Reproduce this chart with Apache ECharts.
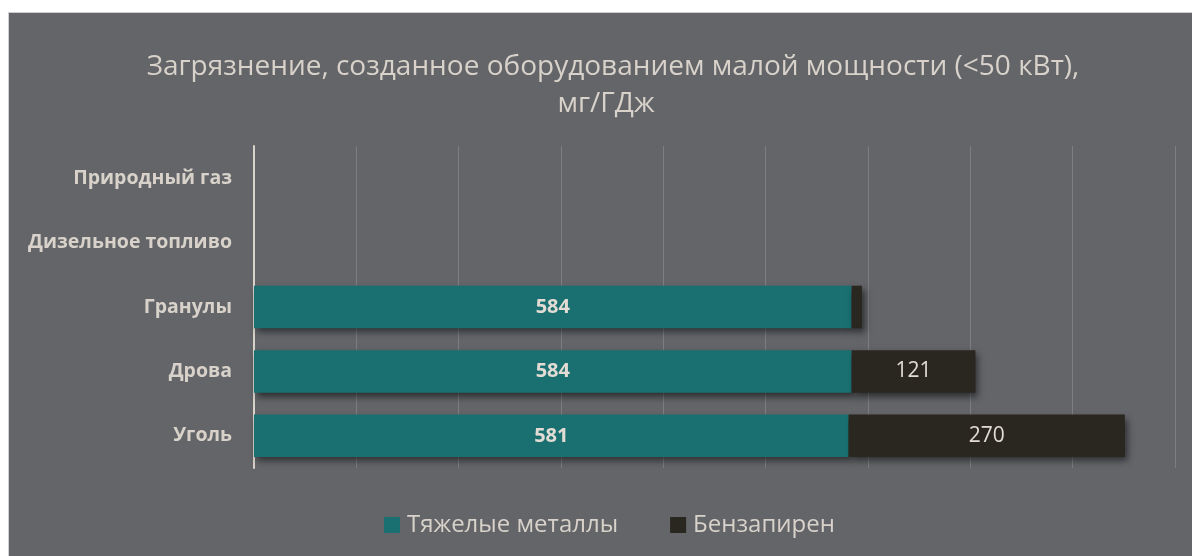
<!DOCTYPE html>
<html>
<head>
<meta charset="utf-8">
<script src="https://cdn.jsdelivr.net/npm/echarts@6/dist/echarts.min.js"></script>
<style>
html, body { margin: 0; padding: 0; background: #fff; }
#chart {
	position: absolute;
	left: 8px; top: 12px;
	width: 1184px; height: 544px;
	border-left: 1px solid #d0d0d0;
	border-top: 1px solid #d0d0d0;
	box-sizing: border-box;
}
</style>
</head>
<body>
<div id="chart"></div>
<script>
// категории сверху вниз
var categories = ['Природный газ', 'Дизельное топливо', 'Гранулы', 'Дрова', 'Уголь'];
var metals = [0, 0, 584, 584, 581];
var benzapyrene = [0, 0, 10, 121, 270];
var axisMin = 0, axisMax = 900, axisStep = 100;

var textColor = '#d8d2ca';
var titleStyle = { color: textColor, fontSize: 28, fontWeight: 'normal', lineHeight: 37 };

var myChart = echarts.init(document.getElementById('chart'));
var option = {
	backgroundColor: '#636569',
	textStyle: { fontFamily: '"Open Sans", "Noto Sans", sans-serif' },
	title: [
		{
			text: 'Загрязнение, созданное оборудованием малой мощности (<50 кВт),',
			left: 599,
			textAlign: 'center',
			top: 31,
			textStyle: titleStyle
		},
		{
			text: 'мг/ГДж',
			left: 592,
			textAlign: 'center',
			top: 68,
			textStyle: titleStyle
		}
	],
	legend: {
		top: 495,
		left: 370,
		icon: 'rect',
		itemWidth: 16,
		itemHeight: 16,
		itemGap: 52,
		textStyle: { color: textColor, fontSize: 24, padding: [0, 0, 0, 2] },
		data: ['Тяжелые металлы', 'Бензапирен']
	},
	grid: {
		left: 245,
		right: 17,
		top: 133,
		bottom: 88
	},
	xAxis: {
		type: 'value',
		min: axisMin,
		max: axisMax,
		interval: axisStep,
		axisLabel: { show: false },
		axisLine: { show: false },
		axisTick: { show: false },
		splitLine: { lineStyle: { color: '#7d7e82', width: 1 } }
	},
	yAxis: {
		type: 'category',
		inverse: true,
		data: categories,
		axisLine: { show: true, lineStyle: { color: '#d8d2ca', width: 2 } },
		axisTick: { show: false },
		axisLabel: {
			color: textColor,
			fontSize: 19.5,
			fontWeight: 'bold',
			margin: 22
		}
	},
	series: [
		{
			name: 'Тяжелые металлы',
			type: 'bar',
			stack: 'total',
			barWidth: '66%',
			data: metals,
			itemStyle: {
				color: '#1a7071',
				shadowColor: 'rgba(0,0,0,0.55)',
				shadowBlur: 7,
				shadowOffsetX: 3,
				shadowOffsetY: 4
			},
			label: {
				show: true,
				position: 'inside',
				color: '#e2dcd4',
				fontSize: 20,
				fontWeight: 'bold',
				formatter: function(p) { return p.value > 0 ? p.value : ''; }
			}
		},
		{
			name: 'Бензапирен',
			type: 'bar',
			stack: 'total',
			data: benzapyrene,
			itemStyle: {
				color: '#2a2620',
				shadowColor: 'rgba(0,0,0,0.55)',
				shadowBlur: 7,
				shadowOffsetX: 3,
				shadowOffsetY: 4
			},
			label: {
				show: true,
				position: 'inside',
				color: '#e2dcd4',
				fontSize: 21,
				formatter: function(p) { return p.value >= 50 ? p.value : ''; }
			}
		}
	]
};
myChart.setOption(option);
</script>
</body>
</html>
